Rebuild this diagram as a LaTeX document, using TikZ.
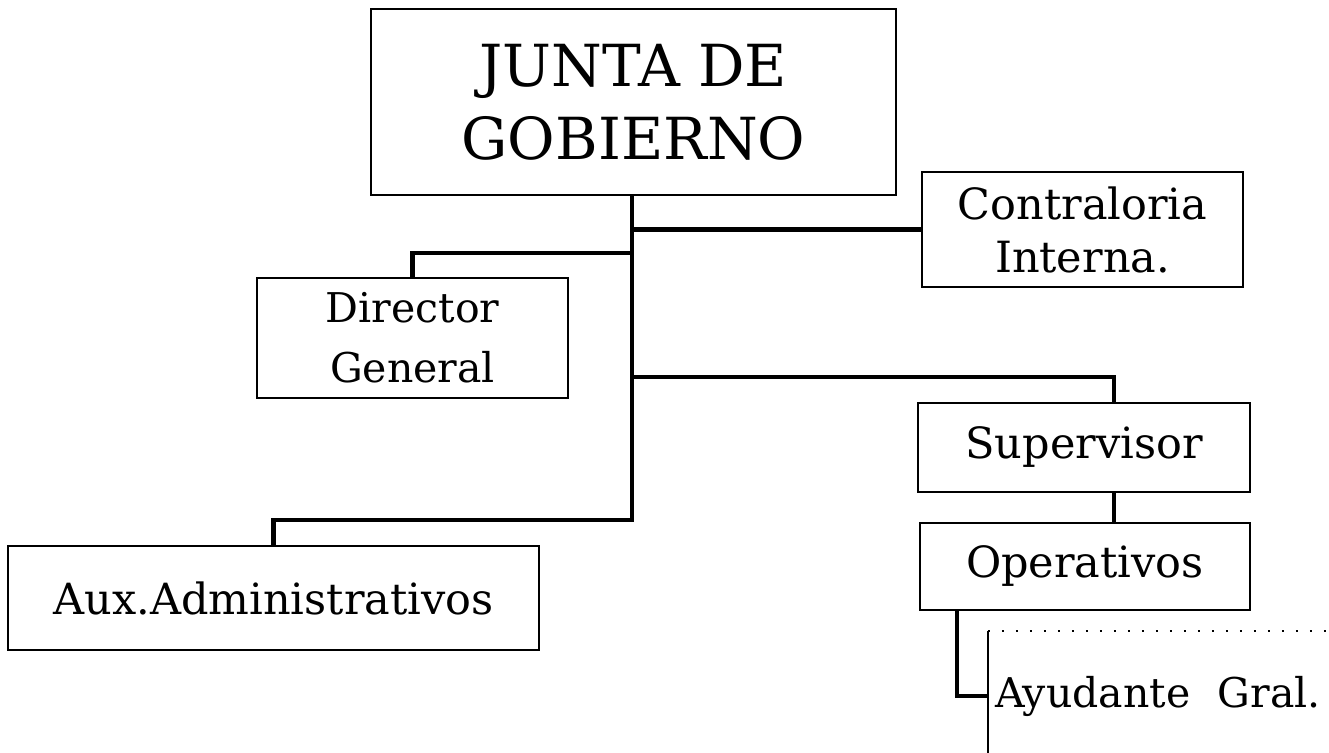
\documentclass[tikz,border=0pt]{standalone}
\usepackage{fontspec}
\setmainfont{DejaVu Serif}
\usetikzlibrary{calc}
\tikzset{
  caja/.style={draw, line width=2.2pt, inner sep=0pt, align=center, font=\fontsize{43}{55}\selectfont},
  enlace/.style={line width=4.5pt}
}

\begin{document}
\begin{tikzpicture}[x=1pt,y=-1pt]
\useasboundingbox (0,0) rectangle (1329,752);
\node[caja, minimum width=525, minimum height=186, font=\fontsize{58}{73}\selectfont] (junta) at (633.5,102) {JUNTA DE\\GOBIERNO};
\node[caja, minimum width=321, minimum height=115, font=\fontsize{43}{53}\selectfont] (contra) at (1082.5,229.5) {Contraloria\\Interna.};
\node[caja, minimum width=311, minimum height=120, font=\fontsize{41}{60}\selectfont] (director) at (412.5,338) {Director\\General};
\node[caja, minimum width=332, minimum height=89] (super) at (1084,447.5) {Supervisor};
\node[caja, minimum width=330, minimum height=87] (opera) at (1085,566.5) {Operativos};
\node[caja, minimum width=531, minimum height=104] (aux) at (273.5,598) {Aux.Administrativos};
\node[caja, draw=none, minimum width=431, minimum height=128, text width=419, align=left, font=\fontsize{41}{50}\selectfont] (ayud) at (1204.5,696) {Ayudante~~Gral.};
\draw[line width=2.2pt] (ayud.north west) -- (ayud.south west);
\draw[line width=1.4pt, dash pattern=on 2pt off 12pt] (ayud.north west) -- (ayud.north east);
\coordinate (tronco) at (632,520);
\coordinate (rd) at (632,253);
\coordinate (rs) at (632,377);
\coordinate (sv) at (1114,450);
\coordinate (ov) at (957,650);
\draw[enlace] (junta.south -| tronco) -- (tronco) -| (aux.north);
\draw[enlace] (tronco |- contra.west) -- (contra.west);
\draw[enlace] (rd) -| (director.north);
\draw[enlace] (rs) -| (sv |- super.north);
\draw[enlace] (sv |- super.south) -- (sv |- opera.north);
\draw[enlace] (ov |- opera.south) |- (ayud.west);
\end{tikzpicture}
\end{document}
